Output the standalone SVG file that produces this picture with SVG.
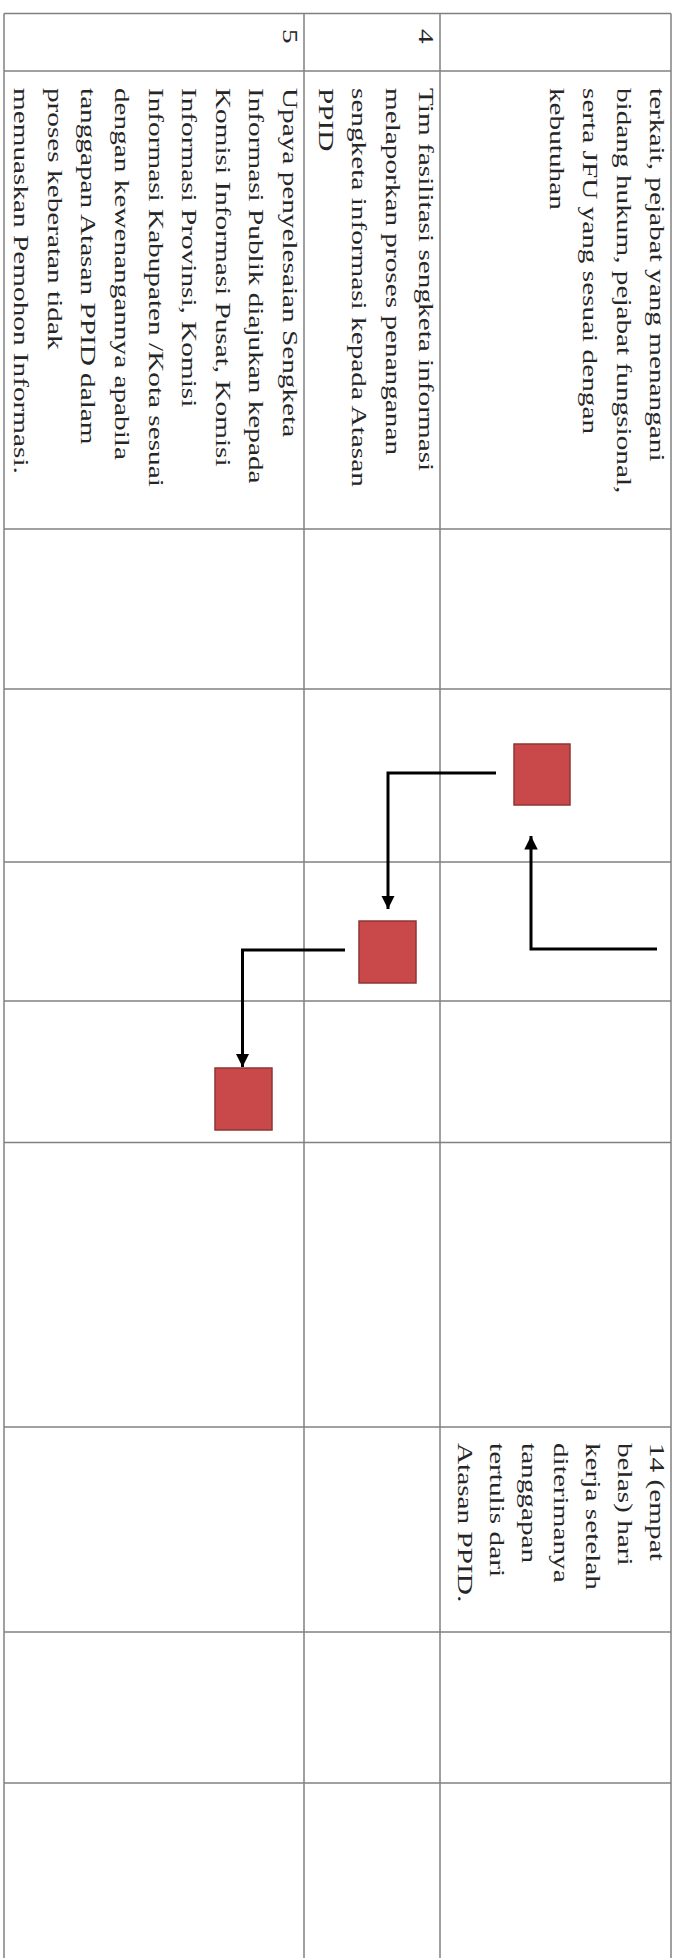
<svg xmlns="http://www.w3.org/2000/svg" width="675" height="1958" viewBox="0 0 675 1958">
  <style>
    .grid { stroke: #808080; stroke-width: 1.5; fill: none; }
    .t { font-family: "Liberation Serif", "Times New Roman", serif; font-size: 22px; fill: #262626; }
    .box { fill: #c9484a; stroke: #8e3634; stroke-width: 1.5; }
    .conn { stroke: #000; stroke-width: 3; fill: none; }
  </style>
  <defs>
    <marker id="ah" viewBox="0 0 10 10" refX="10" refY="5" markerWidth="4.5" markerHeight="4.5" orient="auto" markerUnits="strokeWidth">
      <path d="M0,0 L10,5 L0,10 z" fill="#000"/>
    </marker>
  </defs>
  <rect width="675" height="1958" fill="#fff"/>

  <g id="table" class="grid">
    <line x1="4" y1="13.5" x2="671" y2="13.5"/>
    <line x1="4" y1="71" x2="671" y2="71"/>
    <line x1="4" y1="529" x2="671" y2="529"/>
    <line x1="4" y1="689" x2="671" y2="689"/>
    <line x1="4" y1="862" x2="671" y2="862"/>
    <line x1="4" y1="1001" x2="671" y2="1001"/>
    <line x1="4" y1="1142.5" x2="671" y2="1142.5"/>
    <line x1="4" y1="1427" x2="671" y2="1427"/>
    <line x1="4" y1="1632" x2="671" y2="1632"/>
    <line x1="4" y1="1783" x2="671" y2="1783"/>
    <line x1="4" y1="13.5" x2="4" y2="1958"/>
    <line x1="304" y1="13.5" x2="304" y2="1958"/>
    <line x1="440" y1="13.5" x2="440" y2="1958"/>
    <line x1="671" y1="13.5" x2="671" y2="1958"/>
  </g>

  <g id="header-text">
    <text class="t" transform="translate(419,29) rotate(90) scale(1.33,1)">4</text>
    <text class="t" transform="translate(283,29) rotate(90) scale(1.33,1)">5</text>
  </g>

  <g id="cell-col3-row1">
    <text class="t" transform="translate(650,88) rotate(90) scale(1.33,1)">terkait, pejabat yang menangani</text>
    <text class="t" transform="translate(616.5,88) rotate(90) scale(1.33,1)">bidang hukum, pejabat fungsional,</text>
    <text class="t" transform="translate(583,88) rotate(90) scale(1.33,1)">serta JFU yang sesuai dengan</text>
    <text class="t" transform="translate(549.5,88) rotate(90) scale(1.33,1)">kebutuhan</text>
  </g>

  <g id="cell-col2-row1">
    <text class="t" transform="translate(419,88) rotate(90) scale(1.33,1)">Tim fasilitasi sengketa informasi</text>
    <text class="t" transform="translate(385.5,88) rotate(90) scale(1.33,1)">melaporkan proses penanganan</text>
    <text class="t" transform="translate(352,88) rotate(90) scale(1.33,1)">sengketa informasi kepada Atasan</text>
    <text class="t" transform="translate(318.5,88) rotate(90) scale(1.33,1)">PPID</text>
  </g>

  <g id="cell-col1-row1">
    <text class="t" transform="translate(283,88) rotate(90) scale(1.33,1)">Upaya penyelesaian Sengketa</text>
    <text class="t" transform="translate(249.4,88) rotate(90) scale(1.33,1)">Informasi Publik diajukan kepada</text>
    <text class="t" transform="translate(215.8,88) rotate(90) scale(1.33,1)">Komisi Informasi Pusat, Komisi</text>
    <text class="t" transform="translate(182.2,88) rotate(90) scale(1.33,1)">Informasi Provinsi, Komisi</text>
    <text class="t" transform="translate(148.6,88) rotate(90) scale(1.33,1)">Informasi Kabupaten /Kota sesuai</text>
    <text class="t" transform="translate(115,88) rotate(90) scale(1.33,1)">dengan kewenangannya apabila</text>
    <text class="t" transform="translate(81.4,88) rotate(90) scale(1.33,1)">tanggapan Atasan PPID dalam</text>
    <text class="t" transform="translate(47.8,88) rotate(90) scale(1.33,1)">proses keberatan tidak</text>
    <text class="t" transform="translate(14.2,88) rotate(90) scale(1.33,1)">memuaskan Pemohon Informasi.</text>
  </g>

  <g id="cell-col3-time">
    <text class="t" transform="translate(650,1443) rotate(90) scale(1.33,1)">14 (empat</text>
    <text class="t" transform="translate(618,1443) rotate(90) scale(1.33,1)">belas) hari</text>
    <text class="t" transform="translate(586,1443) rotate(90) scale(1.33,1)">kerja setelah</text>
    <text class="t" transform="translate(554,1443) rotate(90) scale(1.33,1)">diterimanya</text>
    <text class="t" transform="translate(522,1443) rotate(90) scale(1.33,1)">tanggapan</text>
    <text class="t" transform="translate(490,1443) rotate(90) scale(1.33,1)">tertulis dari</text>
    <text class="t" transform="translate(458,1443) rotate(90) scale(1.33,1)">Atasan PPID.</text>
  </g>

  <g id="connectors">
    <path class="conn" d="M657,949 H531 V836" marker-end="url(#ah)"/>
    <path class="conn" d="M496,773 H388 V909" marker-end="url(#ah)"/>
    <path class="conn" d="M345,950 H242.5 V1067" marker-end="url(#ah)"/>
  </g>

  <g id="node-step3">
    <rect class="box" x="514" y="744" width="56" height="61"/>
  </g>
  <g id="node-step4">
    <rect class="box" x="359" y="921" width="57" height="62"/>
  </g>
  <g id="node-step5">
    <rect class="box" x="215" y="1068" width="57" height="62"/>
  </g>
</svg>
